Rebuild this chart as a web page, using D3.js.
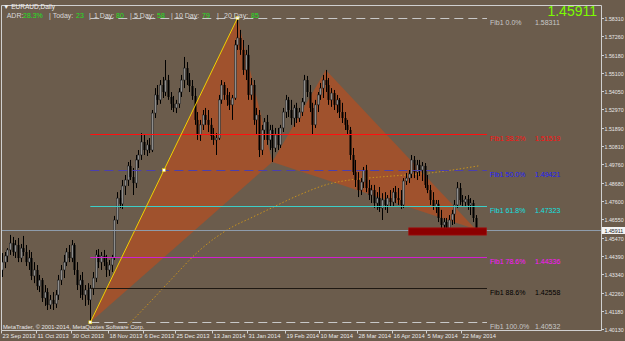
<!DOCTYPE html>
<html lang="en">
<head>
<meta charset="UTF-8">
<title>EURAUD,Daily</title>
<style>
    body,
    html {
        margin: 0;
        padding: 0;
        background: #6b5c4c;
    }
    svg { display: block; font-family: "Liberation Sans", Arial, sans-serif; }
</style>
<script src="https://d3js.org/d3.v7.min.js"></script>
</head>
<body>
<div id="chart"></div>
<script>
// daily bars, 23 Sep 2013 .. 28 May 2014
const open = [
    1.4359,1.4405,1.4441,1.4476,1.4516,1.4464,1.4505,1.4429,1.4487,1.4464,
    1.4405,1.4429,1.4324,1.4359,1.4265,1.4300,1.4195,1.4230,1.4155,1.4184,
    1.4161,1.4213,1.4300,1.4359,1.4405,1.4464,1.4429,1.4505,1.4359,1.4271,
    1.4300,1.4213,1.4242,1.4184,1.4253,1.4312,1.4447,1.4405,1.4441,1.4405,
    1.4359,1.4388,1.4429,1.4651,1.4779,1.4745,1.4850,1.4885,1.4967,1.4902,
    1.4867,1.5002,1.5031,1.5107,1.5060,1.5090,1.5060,1.5276,1.5382,1.5353,
    1.5440,1.5399,1.5469,1.5370,1.5330,1.5306,1.5330,1.5399,1.5469,1.5539,
    1.5469,1.5434,1.5376,1.5236,1.5148,1.5207,1.5265,1.5236,1.5207,1.5142,
    1.5119,1.5130,1.5353,1.5440,1.5382,1.5353,1.5324,1.5364,1.5674,1.5715,
    1.5645,1.5528,1.5616,1.5382,1.5440,1.5236,1.5265,1.5060,1.5177,1.5224,
    1.5119,1.5177,1.5072,1.5148,1.5090,1.5189,1.5282,1.5353,1.5294,1.5247,
    1.5306,1.5247,1.5282,1.5341,1.5469,1.5399,1.5306,1.5207,1.5324,1.5382,
    1.5422,1.5469,1.5440,1.5353,1.5393,1.5324,1.5353,1.5282,1.5247,1.5207,
    1.5177,1.5031,1.4931,1.4885,1.4826,1.4873,1.4943,1.4838,1.4797,1.4826,
    1.4750,1.4779,1.4721,1.4768,1.4739,1.4779,1.4756,1.4814,1.4779,1.4768,
    1.4739,1.4879,1.4896,1.4920,1.5002,1.4931,1.4973,1.4943,1.4967,1.4856,
    1.4826,1.4768,1.4727,1.4745,1.4663,1.4622,1.4639,1.4604,1.4651,1.4686,
    1.4739,1.4838,1.4768,1.4756,1.4773,1.4739,1.4750,1.4663
];
const high = [
    1.4458,1.4464,1.4487,1.4564,1.4552,1.4534,1.4546,1.4511,1.4558,1.4505,
    1.4476,1.4464,1.4405,1.4388,1.4330,1.4312,1.4271,1.4253,1.4213,1.4230,
    1.4242,1.4330,1.4388,1.4447,1.4487,1.4505,1.4534,1.4516,1.4405,1.4330,
    1.4347,1.4271,1.4282,1.4271,1.4347,1.4476,1.4481,1.4464,1.4476,1.4447,
    1.4417,1.4447,1.4675,1.4814,1.4826,1.4885,1.4914,1.4990,1.5002,1.4955,
    1.5031,1.5060,1.5159,1.5148,1.5119,1.5130,1.5294,1.5422,1.5440,1.5469,
    1.5487,1.5586,1.5499,1.5399,1.5376,1.5353,1.5422,1.5499,1.5604,1.5574,
    1.5510,1.5469,1.5422,1.5282,1.5236,1.5294,1.5306,1.5294,1.5247,1.5189,
    1.5159,1.5382,1.5469,1.5457,1.5422,1.5399,1.5382,1.5703,1.58311,1.5762,
    1.5703,1.5645,1.5674,1.5481,1.5469,1.5306,1.5294,1.5207,1.5247,1.5265,
    1.5207,1.5207,1.5189,1.5189,1.5207,1.5306,1.5382,1.5370,1.5353,1.5324,
    1.5336,1.5306,1.5364,1.5499,1.5493,1.5440,1.5336,1.5353,1.5399,1.5452,
    1.5499,1.5528,1.5481,1.5422,1.5411,1.5382,1.5364,1.5336,1.5282,1.5236,
    1.5195,1.5072,1.5002,1.4931,1.4896,1.4961,1.4973,1.4885,1.4856,1.4856,
    1.4814,1.4844,1.4808,1.4814,1.4797,1.4826,1.4838,1.4850,1.4838,1.4826,
    1.4896,1.4926,1.4943,1.5031,1.5025,1.5002,1.5002,1.4990,1.4984,1.4914,
    1.4856,1.4814,1.4768,1.4768,1.4710,1.4663,1.4663,1.4680,1.4710,1.4768,
    1.4873,1.4867,1.4797,1.4791,1.4797,1.4779,1.4768,1.4680
];
const low = [
    1.4318,1.4370,1.4405,1.4447,1.4441,1.4429,1.4405,1.4405,1.4441,1.4382,
    1.4359,1.4300,1.4282,1.4242,1.4230,1.4172,1.4149,1.4125,1.4131,1.4125,
    1.4137,1.4184,1.4271,1.4312,1.4382,1.4405,1.4405,1.4330,1.4242,1.4195,
    1.4184,1.4149,1.4155,1.40532,1.4213,1.4288,1.4370,1.4359,1.4382,1.4318,
    1.4324,1.4347,1.4417,1.4628,1.4721,1.4715,1.4797,1.4850,1.4885,1.4797,
    1.4838,1.4955,1.5002,1.5031,1.5025,1.5042,1.5048,1.5247,1.5324,1.5330,
    1.5364,1.5376,1.5353,1.5294,1.5282,1.5276,1.5306,1.5370,1.5422,1.5440,
    1.5399,1.5353,1.5207,1.5119,1.5113,1.5177,1.5207,1.5165,1.5119,1.5090,
    1.5031,1.5119,1.5330,1.5353,1.5318,1.5294,1.5236,1.5353,1.5645,1.5616,
    1.5499,1.5469,1.5353,1.5353,1.5207,1.5148,1.5019,1.5031,1.5119,1.5090,
    1.5060,1.4990,1.5048,1.5060,1.5072,1.5165,1.5247,1.5253,1.5207,1.5195,
    1.5218,1.5224,1.5259,1.5324,1.5370,1.5282,1.5148,1.5189,1.5282,1.5353,
    1.5364,1.5399,1.5324,1.5312,1.5294,1.5276,1.5247,1.5218,1.5177,1.5148,
    1.5002,1.4914,1.4844,1.4785,1.4797,1.4838,1.4814,1.4768,1.4750,1.4721,
    1.4710,1.4698,1.4651,1.4710,1.4692,1.4727,1.4733,1.4750,1.4739,1.4715,
    1.4721,1.4856,1.4867,1.4896,1.4896,1.4885,1.4908,1.4879,1.4838,1.4808,
    1.4739,1.4710,1.4692,1.4639,1.4604,1.4581,1.4575,1.4593,1.4622,1.4628,
    1.4721,1.4739,1.4727,1.4733,1.4710,1.4680,1.4639,1.4581
];
const close = [
    1.4405,1.4441,1.4476,1.4516,1.4464,1.4505,1.4429,1.4487,1.4464,1.4405,
    1.4429,1.4324,1.4359,1.4265,1.4300,1.4195,1.4230,1.4155,1.4184,1.4161,
    1.4213,1.4300,1.4359,1.4405,1.4464,1.4429,1.4505,1.4359,1.4271,1.4300,
    1.4213,1.4242,1.4184,1.4253,1.4312,1.4447,1.4405,1.4441,1.4405,1.4359,
    1.4388,1.4429,1.4651,1.4779,1.4745,1.4850,1.4885,1.4967,1.4902,1.4867,
    1.5002,1.5031,1.5107,1.5060,1.5090,1.5060,1.5276,1.5382,1.5353,1.5440,
    1.5399,1.5469,1.5370,1.5330,1.5306,1.5330,1.5399,1.5469,1.5539,1.5469,
    1.5434,1.5376,1.5236,1.5148,1.5207,1.5265,1.5236,1.5207,1.5142,1.5119,
    1.5130,1.5353,1.5440,1.5382,1.5353,1.5324,1.5364,1.5674,1.5715,1.5645,
    1.5528,1.5616,1.5382,1.5440,1.5236,1.5265,1.5060,1.5177,1.5224,1.5119,
    1.5177,1.5072,1.5148,1.5090,1.5189,1.5282,1.5353,1.5294,1.5247,1.5306,
    1.5247,1.5282,1.5341,1.5469,1.5399,1.5306,1.5207,1.5324,1.5382,1.5422,
    1.5469,1.5440,1.5353,1.5393,1.5324,1.5353,1.5282,1.5247,1.5207,1.5177,
    1.5031,1.4931,1.4885,1.4826,1.4873,1.4943,1.4838,1.4797,1.4826,1.4750,
    1.4779,1.4721,1.4768,1.4739,1.4779,1.4756,1.4814,1.4779,1.4768,1.4739,
    1.4879,1.4896,1.4920,1.5002,1.4931,1.4973,1.4943,1.4967,1.4856,1.4826,
    1.4768,1.4727,1.4745,1.4663,1.4622,1.4639,1.4604,1.4651,1.4686,1.4739,
    1.4838,1.4768,1.4756,1.4773,1.4739,1.4750,1.4663,1.45911
];

// moving average (dotted), sampled at bar numbers
const maBars   = [47, 55, 63, 74, 86, 93, 100, 111, 122, 130, 141, 160, 178];
const maValues = [1.4037, 1.4166, 1.4300, 1.4476, 1.4610, 1.4663, 1.4716, 1.4797, 1.4861, 1.4885, 1.4902, 1.4926, 1.4967];

// harmonic pattern X A B C D
const patternBars   = [33, 88, 101, 121, 177];
const patternPrices = [1.40532, 1.58311, 1.4990, 1.5528, 1.4597];

// fibonacci levels
const fibNames  = ["Fib1 0.0%", "Fib1 38.2%", "Fib1 50.0%", "Fib1 61.8%", "Fib1 78.6%", "Fib1 88.6%", "Fib1 100.0%"];
const fibPrices = [1.58311, 1.51519, 1.49421, 1.47323, 1.44336, 1.42558, 1.40532];

// PRZ box
const przBars   = [152, 181];
const przPrices = [1.4605, 1.4563];

const lastPrice = 1.45911;

const priceTicks = [1.58310, 1.57260, 1.56180, 1.55100, 1.54050, 1.52970, 1.51890, 1.50810, 1.49760,
    1.48680, 1.47600, 1.46550, 1.45470, 1.44390, 1.43340, 1.42260, 1.41180, 1.40130];
const dateLabels = ["23 Sep 2013", "11 Oct 2013", "30 Oct 2013", "18 Nov 2013", "6 Dec 2013", "25 Dec 2013",
    "13 Jan 2014", "31 Jan 2014", "19 Feb 2014", "10 Mar 2014", "28 Mar 2014", "16 Apr 2014", "5 May 2014", "22 May 2014"];
const dateLabelBars = [0, 13, 26, 40, 53, 65, 79, 92, 106, 119, 133, 146, 159, 172];

const adrParts = [
    ["ADR:", 0], ["28.3%", 1], ["| Today:", 0], ["23", 1], ["|", 0], ["1 Day:", 0], ["80", 1],
    ["|", 0], ["5 Day:", 0], ["58", 1], ["|", 0], ["10 Day:", 0], ["79", 1], ["|", 0], ["20 Day:", 0], ["85", 1]
];

(function () {
    const width = 625, height = 341;
    const left = 1.5, right = 601.5, top = 5.5, bottom = 330.5;
    const fibColors = ["#c8c8c8", "#ff1010", "#4a3fb0", "#3ccfc8", "#d020d0", "#1e1812", "#c8c8c8"];
    const fibText   = ["#c8c8c8", "#ff1010", "#2020ff", "#10e0e0", "#ff10ff", "#000000", "#c8c8c8"];
    const fibDash   = ["9,5", null, "9,5", null, null, null, "9,5"];

    const svg = d3.select("#chart").append("svg")
        .attr("width", width).attr("height", height);

    svg.append("rect").attr("width", width).attr("height", height).attr("fill", "#6b5c4c");

    const x = d3.scaleLinear().domain([0, 177]).range([2, 2 + 177 * 2.676]);
    const y = d3.scaleLinear().domain([1.40532, 1.51519]).range([322.3, 134.3]);

    svg.append("clipPath").attr("id", "plot")
        .append("rect").attr("x", left).attr("y", top).attr("width", right - left).attr("height", bottom - top);
    const g = svg.append("g").attr("clip-path", "url(#plot)");

    // pattern triangles XAB and BCD
    const pts = patternBars.map((b, i) => [x(b), y(patternPrices[i])]);
    [[0, 1, 2], [2, 3, 4]].forEach(t => {
        g.append("path")
            .attr("d", "M" + t.map(k => pts[k].join(",")).join("L") + "Z")
            .attr("fill", "#a0522d");
    });

    // moving average
    g.append("path")
        .attr("d", d3.line().x(d => x(d[0])).y(d => y(d[1])).curve(d3.curveMonotoneX)(maBars.map((b, i) => [b, maValues[i]])))
        .attr("fill", "none").attr("stroke", "#c8921e").attr("stroke-width", 1)
        .attr("stroke-dasharray", "1.5,2");

    // candles
    const bars = d3.range(close.length);
    g.selectAll(".wick").data(bars).enter().append("line")
        .attr("x1", i => Math.round(x(i)) + 0.5).attr("x2", i => Math.round(x(i)) + 0.5)
        .attr("y1", i => y(high[i])).attr("y2", i => y(low[i]))
        .attr("stroke", "#000").attr("stroke-width", 1);
    g.selectAll(".body").data(bars).enter().append("rect")
        .attr("x", i => Math.round(x(i)) - 0.5)
        .attr("width", 2)
        .attr("y", i => y(Math.max(open[i], close[i])))
        .attr("height", i => Math.max(1, Math.abs(y(open[i]) - y(close[i]))))
        .attr("fill", i => close[i] >= open[i] ? "#8e8e8e" : "#000")
        .attr("stroke", i => close[i] >= open[i] ? "#1a1a1a" : "none")
        .attr("stroke-width", 0.5);

    // fibonacci levels
    fibPrices.forEach((p, i) => {
        g.append("line")
            .attr("x1", x(patternBars[0])).attr("x2", 487)
            .attr("y1", Math.round(y(p)) + 0.5).attr("y2", Math.round(y(p)) + 0.5)
            .attr("stroke", fibColors[i]).attr("stroke-width", 1)
            .attr("stroke-dasharray", fibDash[i]);
        svg.append("text").attr("x", 490).attr("y", y(p) + 7)
            .attr("font-size", 7).attr("fill", fibText[i]).text(fibNames[i]);
        svg.append("text").attr("x", 535).attr("y", y(p) + 7)
            .attr("font-size", 7).attr("fill", fibText[i]).text(p.toFixed(5));
    });

    // XA leg
    g.append("line")
        .attr("x1", pts[0][0]).attr("y1", pts[0][1]).attr("x2", pts[1][0]).attr("y2", pts[1][1])
        .attr("stroke", "#f0d000").attr("stroke-width", 1);
    [pts[0], [(pts[0][0] + pts[1][0]) / 2, (pts[0][1] + pts[1][1]) / 2], pts[1]].forEach(p => {
        g.append("rect").attr("x", p[0] - 1.5).attr("y", p[1] - 1.5).attr("width", 3).attr("height", 3)
            .attr("fill", "#fff").attr("stroke", "#e8d000").attr("stroke-width", 0.5);
    });

    // last price line
    g.append("line")
        .attr("x1", left).attr("x2", right)
        .attr("y1", Math.round(y(lastPrice)) + 0.5).attr("y2", Math.round(y(lastPrice)) + 0.5)
        .attr("stroke", "#8e9cac").attr("stroke-width", 1);

    // PRZ box
    g.append("rect")
        .attr("x", x(przBars[0])).attr("width", x(przBars[1]) - x(przBars[0]))
        .attr("y", y(przPrices[0])).attr("height", y(przPrices[1]) - y(przPrices[0]))
        .attr("fill", "#8b0000").attr("stroke", "#a01010").attr("stroke-width", 0.8);

    // frame
    svg.append("path")
        .attr("d", `M${left},${top}H${right}V${bottom}H${left}Z`)
        .attr("fill", "none").attr("stroke", "#d0d0d0").attr("stroke-width", 1);

    // price axis
    priceTicks.forEach(p => {
        const yy = Math.round(y(p)) + 0.5;
        svg.append("line").attr("x1", right).attr("x2", right + 2.5).attr("y1", yy).attr("y2", yy)
            .attr("stroke", "#d0d0d0");
        svg.append("text").attr("x", 604.5).attr("y", yy + 2).attr("font-size", 5.3)
            .attr("fill", "#e8e8e8").text(p.toFixed(5));
    });
    const ly = Math.round(y(lastPrice)) + 0.5;
    svg.append("rect").attr("x", right + 0.5).attr("y", ly - 3.5).attr("width", 23).attr("height", 7)
        .attr("fill", "#f4f4f4");
    svg.append("text").attr("x", 604.5).attr("y", ly + 2).attr("font-size", 5.3)
        .attr("fill", "#222").text(lastPrice.toFixed(5));

    // date axis
    dateLabelBars.forEach((b, i) => {
        const xx = Math.round(x(b)) - 0.5;
        svg.append("line").attr("x1", xx).attr("x2", xx).attr("y1", bottom).attr("y2", bottom + 3)
            .attr("stroke", "#d0d0d0");
        svg.append("text").attr("x", xx + 1).attr("y", 338).attr("font-size", 5.8)
            .attr("fill", "#e8e8e8").text(dateLabels[i]);
    });

    // texts
    svg.append("text").attr("x", 3).attr("y", 8.5).attr("font-size", 6.5)
        .attr("fill", "#f0f0f0").text("\u25BC EURAUD,Daily");
    const adrX = [6.7, 23, 49, 76, 89, 94, 116, 130, 134, 157, 171, 175, 202, 217, 224, 251];
    adrParts.forEach((d, i) => {
        svg.append("text").attr("x", adrX[i]).attr("y", 17.5).attr("font-size", 7)
            .attr("fill", d[1] ? "#22e022" : "#d8d8d8").text(d[0]);
    });
    svg.append("text").attr("x", 597).attr("y", 15.5).attr("text-anchor", "end")
        .attr("font-size", 14).attr("fill", "#7cfc00").text(lastPrice.toFixed(5));
    svg.append("text").attr("x", 3).attr("y", 328.5).attr("font-size", 5.8)
        .attr("fill", "#e8e8e8").text("MetaTrader, \u00A9 2001-2014, MetaQuotes Software Corp.");
}());
</script>
</body>
</html>
